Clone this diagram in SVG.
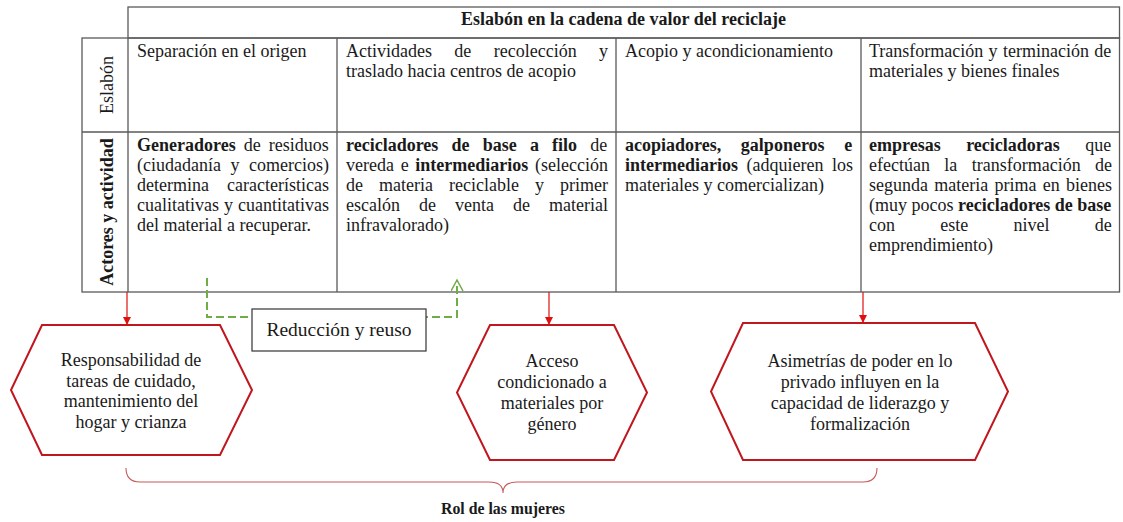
<svg xmlns="http://www.w3.org/2000/svg" width="1123" height="522" viewBox="0 0 1123 522">
<style>
.t{font-family:"Liberation Serif","Times New Roman",serif;font-size:18px;fill:#1a1a1a}
.b{font-weight:bold}
.c{text-anchor:middle}
.grid{fill:none;stroke:#5a5a5a;stroke-width:1.3}
.hex{fill:#fff;stroke:#c0161d;stroke-width:2}
.arr{stroke:#e01010;stroke-width:1.2;fill:none}
.green{stroke:#70ad47;stroke-width:2;stroke-dasharray:8 4;fill:none}
.box{fill:#fff;stroke:#333;stroke-width:1.2}
.brace{fill:none;stroke:#c55a5a;stroke-width:1.1}
</style>
<defs>
<marker id="ah" markerUnits="userSpaceOnUse" markerWidth="9" markerHeight="9" refX="8" refY="4" orient="auto"><path d="M0,0 L8,4 L0,8 z" fill="#e01010"/></marker>
<marker id="oh" markerUnits="userSpaceOnUse" markerWidth="14" markerHeight="14" refX="11" refY="6" orient="auto"><path d="M0,0 L11,6 L0,12" fill="none" stroke="#70ad47" stroke-width="1.5"/></marker>
</defs>
<rect width="1123" height="522" fill="#fff"/>

<g id="table">
<rect class="grid" x="128" y="7" width="991.5" height="31"/>
<rect class="grid" x="82" y="38" width="1037.5" height="254"/>
<path class="grid" d="M82,132 H1119.5 M128,38 V292 M337,38 V292 M616,38 V292 M861,38 V292"/>
<text class="t b c" x="623.5" y="25">Eslabón en la cadena de valor del reciclaje</text>
<text class="t c" transform="translate(113,85) rotate(-90)">Eslabón</text>
<text class="t b c" transform="translate(113,212) rotate(-90)">Actores y actividad</text>
</g>

<g id="col1">
<text class="t" x="137" y="57">Separación en el origen</text>
<text class="t" x="137" y="151" word-spacing="3.5"><tspan class="b">Generadores</tspan> de residuos</text>
<text class="t" x="137" y="171" word-spacing="5">(ciudadanía y comercios)</text>
<text class="t" x="137" y="191" word-spacing="13.6">determina características</text>
<text class="t" x="137" y="211" word-spacing="0.5">cualitativas y cuantitativas</text>
<text class="t" x="137" y="231">del material a recuperar.</text>
</g>

<g id="col2">
<text class="t" x="346" y="57" word-spacing="17.9">Actividades de recolección y</text>
<text class="t" x="346" y="77">traslado hacia centros de acopio</text>
<text class="t" x="346" y="151" word-spacing="8.7"><tspan class="b">recicladores de base a filo</tspan> de</text>
<text class="t" x="346" y="171" word-spacing="2.2">vereda e <tspan class="b">intermediarios</tspan> (selección</text>
<text class="t" x="346" y="191" word-spacing="11.5">de materia reciclable y primer</text>
<text class="t" x="346" y="211" word-spacing="14.5">escalón de venta de material</text>
<text class="t" x="346" y="231">infravalorado)</text>
</g>

<g id="col3">
<text class="t" x="625" y="57">Acopio y acondicionamiento</text>
<text class="t b" x="625" y="151" word-spacing="15.2">acopiadores, galponeros e</text>
<text class="t" x="625" y="171" word-spacing="4"><tspan class="b">intermediarios</tspan> (adquieren los</text>
<text class="t" x="625" y="191">materiales y comercializan)</text>
</g>

<g id="col4">
<text class="t" x="869" y="57" word-spacing="0.8">Transformación y terminación de</text>
<text class="t" x="869" y="77">materiales y bienes finales</text>
<text class="t" x="869" y="151" word-spacing="21"><tspan class="b">empresas recicladoras</tspan> que</text>
<text class="t" x="869" y="171" word-spacing="9.9">efectúan la transformación de</text>
<text class="t" x="869" y="191" word-spacing="1.8">segunda materia prima en bienes</text>
<text class="t" x="869" y="211">(muy pocos <tspan class="b">recicladores de base</tspan></text>
<text class="t" x="869" y="231" word-spacing="40.8">con este nivel de</text>
<text class="t" x="869" y="251">emprendimiento)</text>
</g>

<g id="connectors">
<path class="green" d="M207,278 V317 H457 V280" marker-end="url(#oh)"/>
<line class="arr" x1="127" y1="292" x2="127" y2="325" marker-end="url(#ah)"/>
<line class="arr" x1="549" y1="292" x2="549" y2="325" marker-end="url(#ah)"/>
<line class="arr" x1="863" y1="292" x2="863" y2="323" marker-end="url(#ah)"/>
</g>

<g id="reduccion">
<rect class="box" x="252" y="309" width="174" height="42"/>
<text class="t c" x="339" y="336" style="font-size:19.5px">Reducción y reuso</text>
</g>

<g id="hex1">
<polygon class="hex" points="42,325 220,325 252,390 220,455 42,455 11,390"/>
<text class="t c" x="131" y="366">Responsabilidad de</text>
<text class="t c" x="131" y="386.5">tareas de cuidado,</text>
<text class="t c" x="131" y="407">mantenimiento del</text>
<text class="t c" x="131" y="427.5">hogar y crianza</text>
</g>

<g id="hex2">
<polygon class="hex" points="490,325 614,325 647,392.5 614,460 490,460 457,392.5"/>
<text class="t c" x="552" y="367">Acceso</text>
<text class="t c" x="552" y="388">condicionado a</text>
<text class="t c" x="552" y="409">materiales por</text>
<text class="t c" x="552" y="430">género</text>
</g>

<g id="hex3">
<polygon class="hex" points="743,323 975,323 1008,391.5 975,460 743,460 711,391.5"/>
<text class="t c" x="860" y="367">Asimetrías de poder en lo</text>
<text class="t c" x="860" y="388">privado influyen en la</text>
<text class="t c" x="860" y="409">capacidad de liderazgo y</text>
<text class="t c" x="860" y="430">formalización</text>
</g>

<g id="rol">
<path class="brace" d="M126,468 Q126,482 140,482 L489,482 Q503,482 503,493 Q503,482 517,482 L863,482 Q877,482 877,468"/>
<text class="t b c" x="503" y="514" style="font-size:17px" textLength="124" lengthAdjust="spacingAndGlyphs">Rol de las mujeres</text>
</g>
</svg>
